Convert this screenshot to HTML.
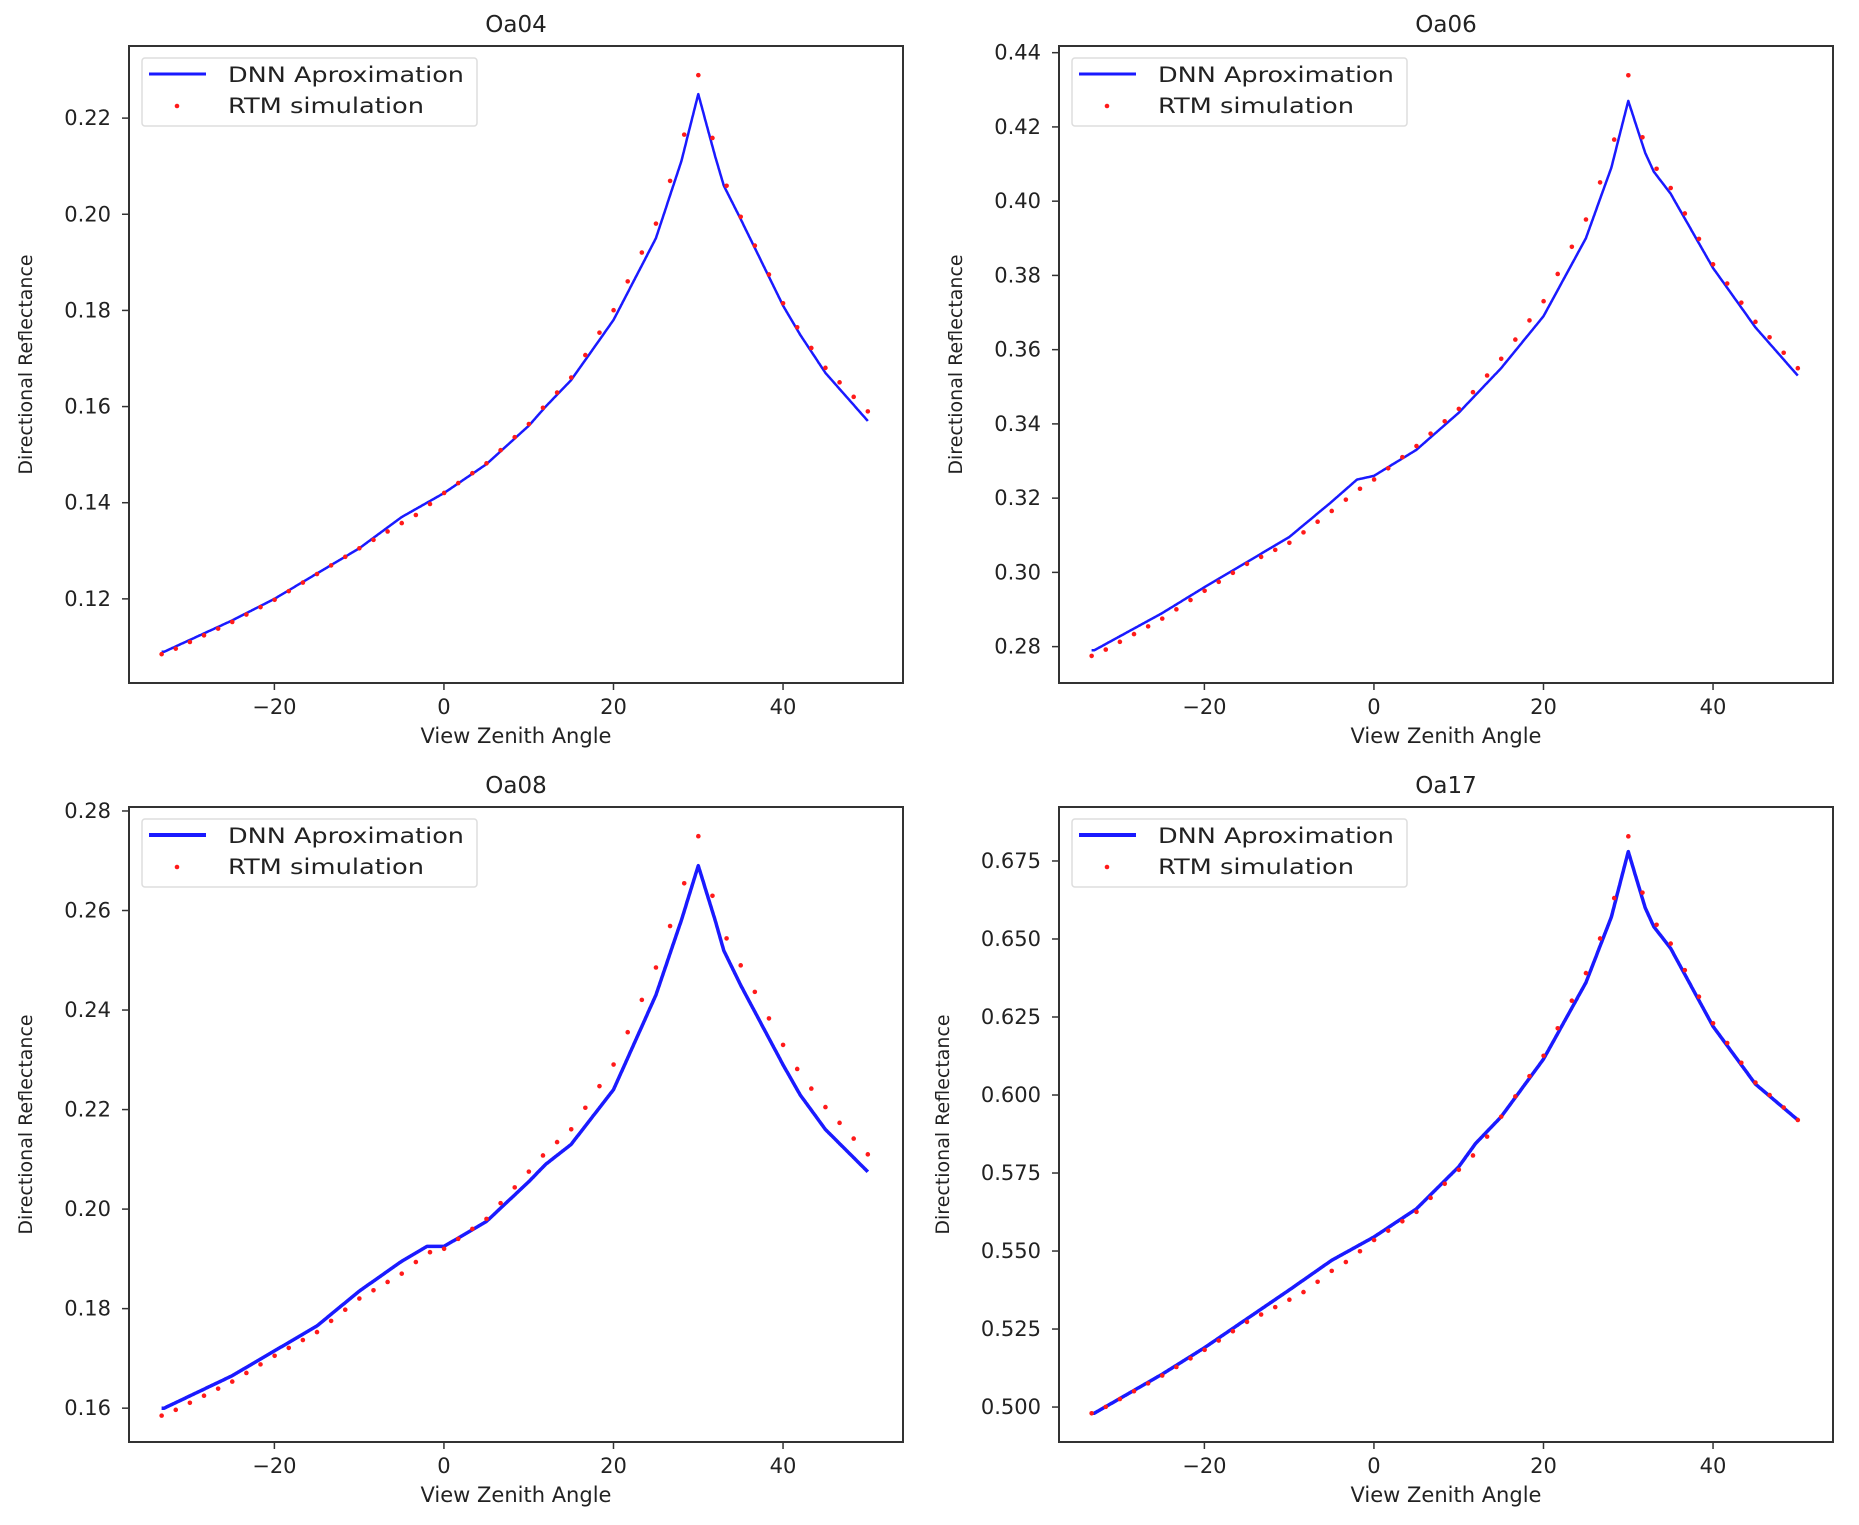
<!DOCTYPE html>
<html><head><meta charset="utf-8"><style>
html,body{margin:0;padding:0;background:#fff;}
svg{display:block;font-family:"DejaVu Sans","Liberation Sans",sans-serif;}
</style></head><body>
<svg id="s" width="1859" height="1525" xmlns="http://www.w3.org/2000/svg"></svg>
<script>
const S=document.getElementById('s');
const NS='http://www.w3.org/2000/svg';
function el(t,a,txt){const e=document.createElementNS(NS,t);for(const k in a)e.setAttribute(k,a[k]);if(txt!==undefined)e.textContent=txt;S.appendChild(e);return e;}
function interp(pts,x){if(x<=pts[0][0])return pts[0][1];for(let i=0;i<pts.length-1;i++){if(x>=pts[i][0]&&x<=pts[i+1][0]){const t=(x-pts[i][0])/(pts[i+1][0]-pts[i][0]);return pts[i][1]+t*(pts[i+1][1]-pts[i][1]);}}return pts[pts.length-1][1];}
const plots=[
 {L:129,T:46,R:903,B:683,title:"Oa04",yl:[0.1025,0.235],yt:[0.12,0.14,0.16,0.18,0.20,0.22],ylab:["0.12","0.14","0.16","0.18","0.20","0.22"],lw:2.5,
  d:[[-33,0.109],[-25,0.1155],[-20,0.120],[-10,0.1305],[-5,0.137],[0,0.142],[5,0.148],[10,0.156],[12,0.160],[15,0.1655],[20,0.178],[25,0.195],[28,0.211],[30,0.225],[32,0.212],[33,0.206],[35,0.199],[40,0.181],[42,0.175],[45,0.167],[50,0.157]],
  o:[[-33,-0.0005],[-10,0],[-4,-0.0015],[0,0],[15,0.0005],[20,0.002],[25,0.003],[28,0.003],[30,0.004],[31,0.002],[35,0.0005],[42,0.0005],[50,0.002]]},
 {L:1059,T:46,R:1833,B:683,title:"Oa06",yl:[0.2702,0.4418],yt:[0.28,0.30,0.32,0.34,0.36,0.38,0.40,0.42,0.44],ylab:["0.28","0.30","0.32","0.34","0.36","0.38","0.40","0.42","0.44"],lw:2.5,
  d:[[-33,0.279],[-25,0.289],[-20,0.296],[-10,0.3095],[-5,0.319],[-2,0.325],[0,0.326],[5,0.333],[10,0.343],[15,0.355],[20,0.369],[25,0.390],[28,0.409],[30,0.427],[32,0.413],[33,0.408],[35,0.402],[40,0.382],[45,0.366],[50,0.353]],
  o:[[-33,-0.0015],[-25,-0.0015],[-15,-0.0005],[-8,-0.002],[-2,-0.003],[0,-0.001],[5,0.001],[10,0.001],[20,0.004],[25,0.005],[28,0.004],[30,0.007],[31,0.002],[40,0.001],[50,0.002]]},
 {L:129,T:807,R:903,B:1442,title:"Oa08",yl:[0.1532,0.2808],yt:[0.16,0.18,0.20,0.22,0.24,0.26,0.28],ylab:["0.16","0.18","0.20","0.22","0.24","0.26","0.28"],lw:3.5,
  d:[[-33,0.160],[-25,0.1665],[-20,0.1715],[-15,0.1765],[-10,0.1835],[-5,0.1895],[-2,0.1925],[0,0.1925],[5,0.1975],[10,0.2055],[12,0.209],[15,0.213],[20,0.224],[25,0.243],[28,0.258],[30,0.269],[32,0.258],[33,0.252],[35,0.245],[40,0.229],[42,0.223],[45,0.216],[50,0.2075]],
  o:[[-33,-0.0015],[-20,-0.001],[-10,-0.0015],[-5,-0.0025],[0,-0.0005],[5,0.0005],[10,0.002],[15,0.003],[20,0.005],[25,0.0055],[28,0.0055],[30,0.006],[31,0.003],[35,0.004],[40,0.004],[45,0.0045],[50,0.0035]]},
 {L:1059,T:807,R:1833,B:1442,title:"Oa17",yl:[0.4888,0.6923],yt:[0.5,0.525,0.55,0.575,0.6,0.625,0.65,0.675],ylab:["0.500","0.525","0.550","0.575","0.600","0.625","0.650","0.675"],lw:3.5,
  d:[[-33,0.498],[-25,0.5105],[-20,0.519],[-10,0.5375],[-5,0.547],[0,0.5545],[5,0.5635],[10,0.577],[12,0.5845],[15,0.593],[20,0.6115],[25,0.636],[28,0.657],[30,0.678],[32,0.660],[33,0.654],[35,0.647],[40,0.622],[45,0.6035],[50,0.592]],
  o:[[-33,0],[-15,-0.001],[-8,-0.004],[-3,-0.003],[0,-0.001],[10,-0.001],[12,-0.003],[15,0],[20,0.001],[25,0.003],[28,0.002],[30,0.005],[31,0.002],[40,0.001],[50,0]]}
];
const xl=[-37.15,54.15];
plots.forEach(p=>{
 const X=x=>p.L+(x-xl[0])/(xl[1]-xl[0])*(p.R-p.L);
 const Y=y=>p.B-(y-p.yl[0])/(p.yl[1]-p.yl[0])*(p.B-p.T);
 const cx=(p.L+p.R)/2;
 el('text',{x:cx,y:p.T-14,'text-anchor':'middle','font-size':23,fill:'#222'},p.title);
 [-20,0,20,40].forEach((v,i)=>{const x=X(v);el('line',{x1:x,y1:p.B,x2:x,y2:p.B+7,stroke:'#333','stroke-width':1.5});
  el('text',{x:x,y:p.B+31,'text-anchor':'middle','font-size':21,fill:'#222'},["\u221220","0","20","40"][i]);});
 p.yt.forEach((v,i)=>{const y=Y(v);el('line',{x1:p.L-7,y1:y,x2:p.L,y2:y,stroke:'#333','stroke-width':1.5});
  el('text',{x:p.L-18,y:y+7,'text-anchor':'end','font-size':21,fill:'#222'},p.ylab[i]);});
 const ylx=p.L-(p.ylab[0].length>4?110:97);
 el('text',{x:ylx,y:(p.T+p.B)/2,'text-anchor':'middle','font-size':19,fill:'#222',transform:`rotate(-90 ${ylx} ${(p.T+p.B)/2})`},"Directional Reflectance");
 el('text',{x:cx,y:p.B+60,'text-anchor':'middle','font-size':21,fill:'#222'},"View Zenith Angle");
 let d='';for(let x=-33.3;x<=50.001;x+=0.1){d+=(d?'L':'M')+X(x).toFixed(1)+' '+Y(interp(p.d,x)).toFixed(1);}
 el('path',{d:d,fill:'none',stroke:'#1a1aff','stroke-width':p.lw,'stroke-linejoin':'round'});
 for(let i=0;i<=50;i++){const x=-33.3+i*83.3/50;const y=interp(p.d,x)+interp(p.o,x);
  el('circle',{cx:X(x),cy:Y(y),r:2.3,fill:'#ff1a1a'});}
 el('rect',{x:p.L,y:p.T,width:p.R-p.L,height:p.B-p.T,fill:'none',stroke:'#333','stroke-width':2});
 el('rect',{x:p.L+13,y:p.T+12,width:335,height:68,rx:3,fill:'#fff','fill-opacity':0.85,stroke:'#ddd','stroke-width':1.5});
 el('line',{x1:p.L+20,y1:p.T+28,x2:p.L+77,y2:p.T+28,stroke:'#1a1aff','stroke-width':p.lw+0.5});
 el('circle',{cx:p.L+48,cy:p.T+60,r:2.3,fill:'#ff1a1a'});
 el('text',{x:p.L+99,y:p.T+36,'font-size':21,fill:'#222',textLength:236,lengthAdjust:'spacingAndGlyphs'},"DNN Aproximation");
 el('text',{x:p.L+99,y:p.T+67,'font-size':21,fill:'#222',textLength:196,lengthAdjust:'spacingAndGlyphs'},"RTM simulation");
});
</script>
</body></html>
